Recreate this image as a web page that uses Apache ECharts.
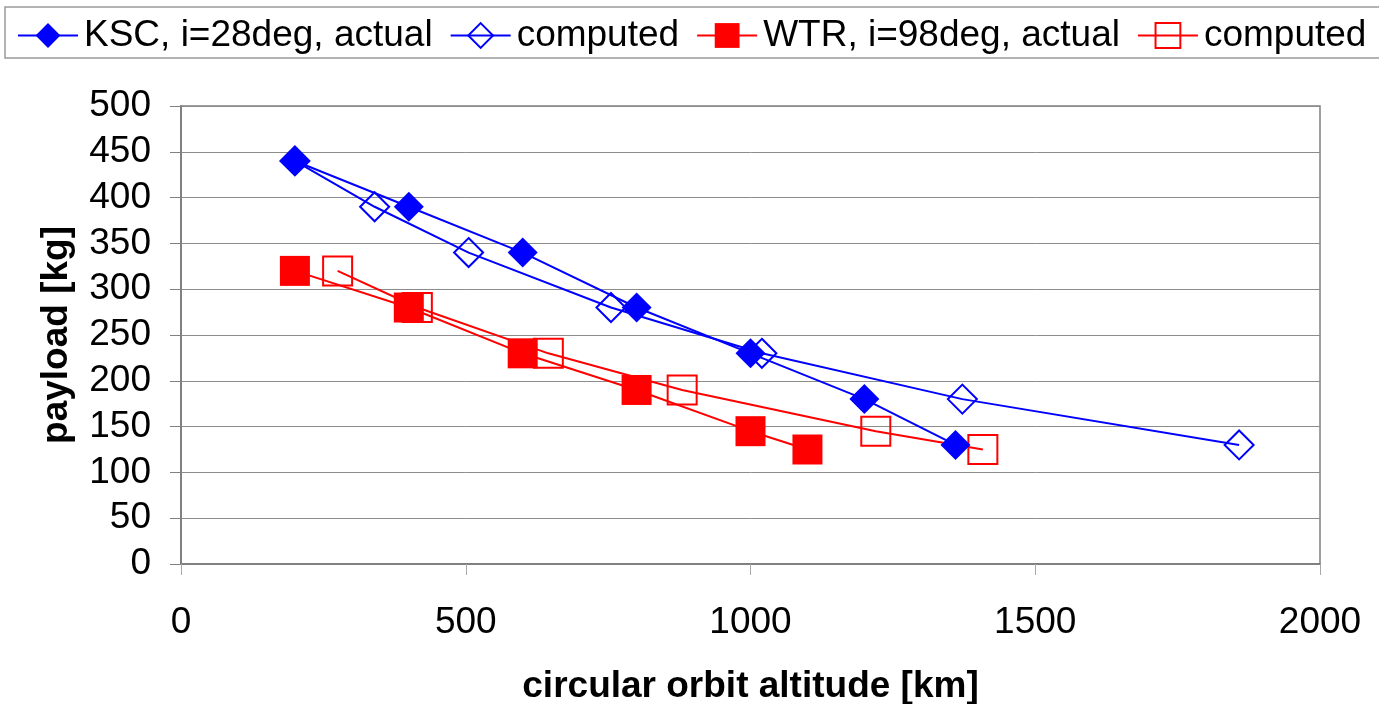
<!DOCTYPE html>
<html>
<head>
<meta charset="utf-8">
<script src="https://cdn.jsdelivr.net/npm/echarts@6/dist/echarts.min.js"></script>
<style>
  html, body { margin: 0; padding: 0; background: #ffffff; }
  #chart { width: 1379px; height: 704px; }
</style>
</head>
<body>
<div id="chart"></div>
<script>
// Payload versus circular orbit altitude, two launch sites
const kscActualAlt = [200, 400, 600, 800, 1000, 1200, 1360];
const kscActualPayload = [440, 390, 340, 280, 230, 180, 130];
const kscComputedAlt = [200, 340, 505, 755, 1020, 1372, 1858];
const kscComputedPayload = [440, 390, 340, 280, 230, 180, 130];

const wtrActualAlt = [200, 400, 600, 800, 1000, 1100];
const wtrActualPayload = [320, 280, 230, 190, 145, 125];
const wtrComputedAlt = [275, 415, 645, 880, 1220, 1408];
const wtrComputedPayload = [320, 280, 230, 190, 145, 125];

const seriesNames = ['KSC, i=28deg, actual', 'computed (KSC)', 'WTR, i=98deg, actual', 'computed (WTR)'];
const xTitle = 'circular orbit altitude [km]';
const yTitle = 'payload [kg]';

const BLUE = '#0000ff';
const RED = '#ff0000';
const FONT = '"Liberation Sans", Arial, sans-serif';

function pairs(xs, ys) {
  return xs.map((x, i) => [x, ys[i]]);
}

const chart = echarts.init(document.getElementById('chart'), null, { renderer: 'canvas' });

chart.setOption({
  animation: false,
  backgroundColor: '#ffffff',
  graphic: [{
    type: 'rect',
    shape: { x: 5, y: 7, width: 1390, height: 51 },
    style: { fill: 'none', stroke: '#9a9a9a', lineWidth: 1.5 },
    silent: true
  }],
  legend: {
    data: seriesNames,
    left: 17,
    top: 17,
    padding: 0,
    itemWidth: 60,
    itemHeight: 31,
    itemGap: 17,
    formatter: name => name.startsWith('computed') ? 'computed' : name,
    textStyle: { fontFamily: FONT, fontSize: 37, color: '#000000', padding: [0, 0, 0, 1] }
  },
  grid: {
    left: 181,
    right: 59,
    top: 106,
    bottom: 140,
    outerBoundsMode: 'none',
    containLabel: false,
    show: true,
    borderColor: '#808080',
    borderWidth: 1.5,
    backgroundColor: '#ffffff'
  },
  xAxis: {
    type: 'value',
    min: 0,
    max: 2000,
    interval: 500,
    name: xTitle,
    nameLocation: 'middle',
    nameGap: 104,
    nameTextStyle: { fontFamily: FONT, fontSize: 37, fontWeight: 'bold', color: '#000000' },
    axisLine: { show: true, lineStyle: { color: '#808080', width: 2 } },
    axisTick: { show: true, inside: false, length: 11, lineStyle: { color: '#a8a8a8', width: 1 } },
    axisLabel: { margin: 40, fontFamily: FONT, fontSize: 37, color: '#000000', formatter: v => String(v) },
    splitLine: { show: false }
  },
  yAxis: {
    type: 'value',
    min: 0,
    max: 500,
    interval: 50,
    name: yTitle,
    nameLocation: 'middle',
    nameGap: 106,
    nameRotate: 90,
    nameTextStyle: { fontFamily: FONT, fontSize: 37, fontWeight: 'bold', color: '#000000' },
    axisLine: { show: true, lineStyle: { color: '#808080', width: 2 } },
    axisTick: { show: true, inside: false, length: 11, lineStyle: { color: '#808080', width: 1 } },
    axisLabel: { margin: 30, fontFamily: FONT, fontSize: 37, color: '#000000', formatter: v => String(v) },
    splitLine: { show: true, lineStyle: { color: '#8c8c8c', width: 1 } }
  },
  series: [
    {
      name: seriesNames[0],
      type: 'line',
      data: pairs(kscActualAlt, kscActualPayload),
      symbol: 'diamond',
      symbolSize: 30,
      lineStyle: { color: BLUE, width: 2 },
      itemStyle: { color: BLUE },
      z: 3
    },
    {
      name: seriesNames[1],
      type: 'line',
      data: pairs(kscComputedAlt, kscComputedPayload),
      symbol: 'diamond',
      symbolSize: 29,
      lineStyle: { color: BLUE, width: 2 },
      itemStyle: { color: 'rgba(255,255,255,0)', borderColor: BLUE, borderWidth: 2 },
      z: 2
    },
    {
      name: seriesNames[2],
      type: 'line',
      data: pairs(wtrActualAlt, wtrActualPayload),
      symbol: 'rect',
      symbolSize: 30,
      lineStyle: { color: RED, width: 2 },
      itemStyle: { color: RED },
      z: 3
    },
    {
      name: seriesNames[3],
      type: 'line',
      data: pairs(wtrComputedAlt, wtrComputedPayload),
      symbol: 'rect',
      symbolSize: 29,
      lineStyle: { color: RED, width: 2 },
      itemStyle: { color: 'rgba(255,255,255,0)', borderColor: RED, borderWidth: 2 },
      z: 2
    }
  ]
});
</script>
</body>
</html>
